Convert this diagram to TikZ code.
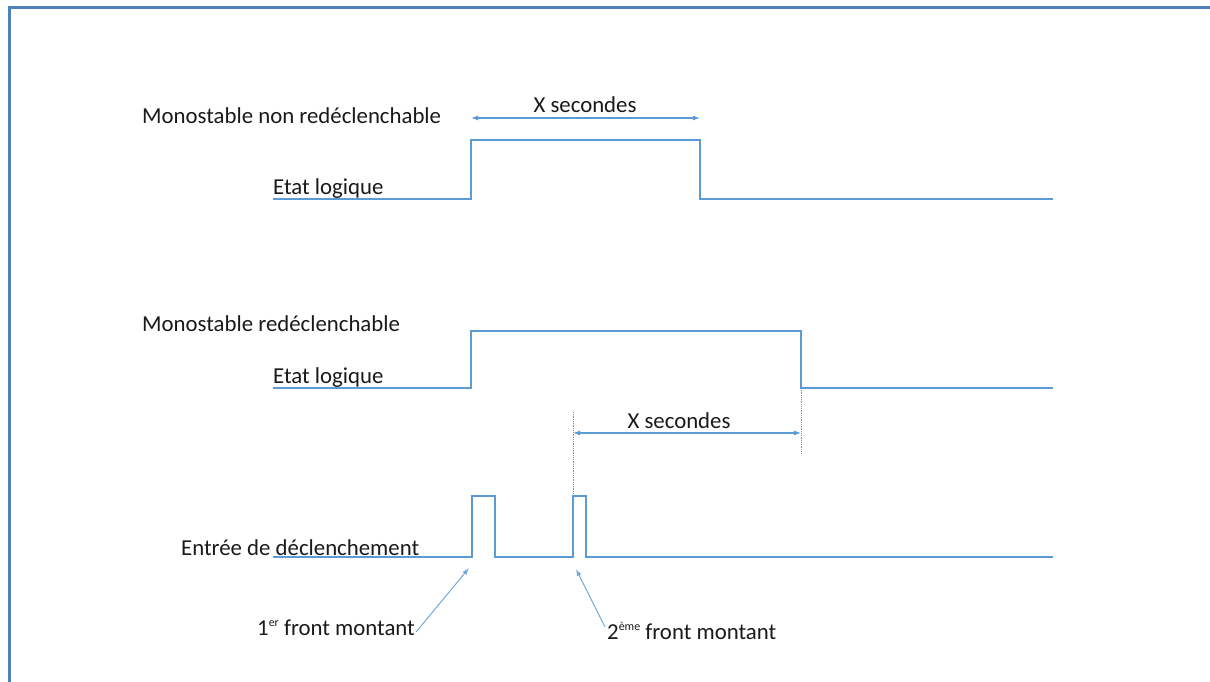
\documentclass[tikz,border=0pt]{standalone}
\usepackage{fontspec}
\setmainfont{Carlito}
\usetikzlibrary{arrows.meta}
\definecolor{sigblue}{HTML}{5B9BD5}
\definecolor{frameblue}{HTML}{4F81BD}
\definecolor{txtgray}{HTML}{1A1A1A}
\newcommand{\supsm}[1]{\raisebox{0.75ex}{\fontsize{12}{13}\selectfont #1}}
\begin{document}
\begin{tikzpicture}[x=1pt,y=-1pt,
  signal/.style={draw=sigblue, line width=1.3pt, line join=miter},
  lbl/.style={font=\fontsize{22.8}{27}\selectfont, text=txtgray, inner sep=0pt, anchor=base west},
  dimlbl/.style={font=\fontsize{22.8}{27}\selectfont, text=txtgray, inner sep=0pt, anchor=base},
  dimarrow/.style={draw=sigblue, line width=1.1pt, {Latex[length=7pt,width=5pt]}-{Latex[length=7pt,width=5pt]}},
  guide/.style={draw=sigblue, line width=0.8pt, densely dotted},
  pointer/.style={draw=sigblue!85, line width=1pt, -{Latex[length=7pt,width=5pt]}}]
\useasboundingbox (0,0) rectangle (1210,682);
\fill[white] (0,0) rectangle (1210,682);
% frame (top and left edges)
\draw[frameblue, line width=3pt] (9,682) -- (9,8) -- (1210,8);

% ---------- top: monostable non redeclenchable ----------
\node[lbl] (t1) at (142,124) {Monostable non redéclenchable};
\node[lbl] (e1) at (273,194) {Etat logique};
\coordinate (a0) at (273,199);
\coordinate (a1) at (471,199);
\coordinate (a2) at (471,140);
\coordinate (a3) at (700,140);
\coordinate (a4) at (700,199);
\coordinate (a5) at (1053,199);
\draw[signal] (a0) -- (a1) -- (a2) -- (a3) -- (a4) -- (a5);
\coordinate (d1l) at (471,118);
\coordinate (d1r) at (700,118);
\draw[dimarrow] (d1l) -- (d1r);
\node[dimlbl] (x1) at (585,113) {X secondes};

% ---------- middle: monostable redeclenchable ----------
\node[lbl] (t2) at (142,331) {Monostable redéclenchable};
\node[lbl] (e2) at (273,383) {Etat logique};
\coordinate (b0) at (273,388);
\coordinate (b1) at (471,388);
\coordinate (b2) at (471,331);
\coordinate (b3) at (801,331);
\coordinate (b4) at (801,388);
\coordinate (b5) at (1053,388);
\coordinate (b6) at (801,453);
\draw[signal] (b0) -- (b1) -- (b2) -- (b3) -- (b4) -- (b5);
\draw[guide] (b4) -- (b6);
\coordinate (g1) at (573,412);
\coordinate (g2) at (573,497);
\draw[guide] (g1) -- (g2);
\coordinate (d2l) at (573,433);
\coordinate (d2r) at (801,433);
\draw[dimarrow] (d2l) -- (d2r);
\node[dimlbl] (x2) at (679,428) {X secondes};

% ---------- bottom: trigger input ----------
\node[lbl] (e3) at (181,555) {Entrée de déclenchement};
\coordinate (c0) at (273,557);
\coordinate (c1) at (472,557);
\coordinate (c2) at (472,496);
\coordinate (c3) at (495,496);
\coordinate (c4) at (495,557);
\coordinate (c5) at (573,557);
\coordinate (c6) at (573,496);
\coordinate (c7) at (586,496);
\coordinate (c8) at (586,557);
\coordinate (c9) at (1053,557);
\draw[signal] (c0) -- (c1) -- (c2) -- (c3) -- (c4) -- (c5) -- (c6) -- (c7) -- (c8) -- (c9);

\node[lbl] (f1) at (257,635) {1\supsm{er} front montant};
\node[lbl] (f2) at (607,639) {2\supsm{ème} front montant};
\coordinate (p1) at (469,568);
\coordinate (p2) at (576,569);
\draw[pointer] ([xshift=1pt,yshift=3pt]f1.base east) -- (p1);
\draw[pointer] ([xshift=-2pt,yshift=12pt]f2.base west) -- (p2);
\end{tikzpicture}
\end{document}
